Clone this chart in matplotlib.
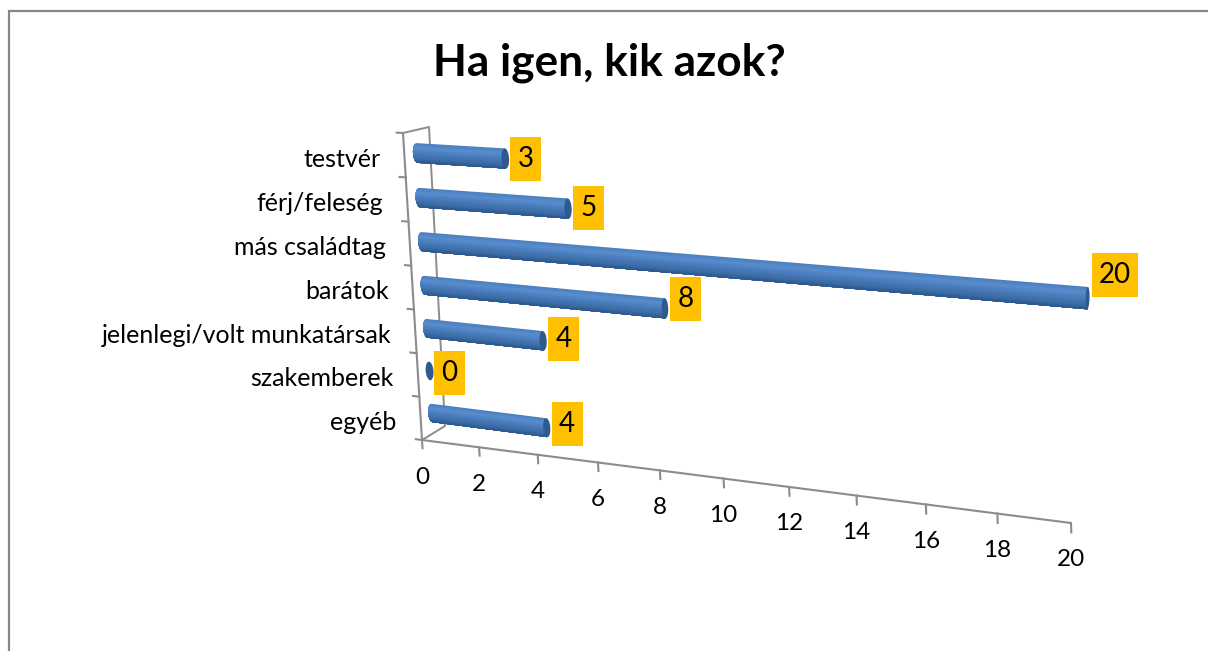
import numpy as np
import matplotlib
matplotlib.use("Agg")
import matplotlib.pyplot as plt
from matplotlib.patches import Rectangle
from matplotlib.transforms import Transform

categories = ["egyéb", "szakemberek", "jelenlegi/volt munkatársak", "barátok",
              "más családtag", "férj/feleség", "testvér"]
values = [4, 0, 4, 8, 20, 5, 3]
value_ticks = [0, 2, 4, 6, 8, 10, 12, 14, 16, 18, 20]
title = "Ha igen, kik azok?"

plt.rcParams["font.family"] = ["Lato", "DejaVu Sans"]


class Perspective(Transform):
    # maps (value, category position) on to picture pixels, like the 3D view of the original
    input_dims = 2
    output_dims = 2
    is_affine = False

    def __init__(self, src, dst):
        super().__init__()
        rows, rhs = [], []
        for (x, y), (u, w) in zip(src, dst):
            rows.append([x, y, 1, 0, 0, 0, -u * x, -u * y])
            rows.append([0, 0, 0, x, y, 1, -w * x, -w * y])
            rhs += [u, w]
        self.m = np.append(np.linalg.solve(np.array(rows, float), np.array(rhs, float)), 1).reshape(3, 3)

    def transform_non_affine(self, xy):
        xy = np.asarray(xy, float)
        p = np.column_stack([xy, np.ones(len(xy))]) @ self.m.T
        return p[:, :2] / p[:, 2:]


fig = plt.figure(figsize=(12.08, 6.51), dpi=100)
ax = fig.add_axes([0, 0, 1, 1])
ax.set_xlim(0, 1208)
ax.set_ylim(651, 0)
ax.axis("off")

n = len(categories)
top = max(value_ticks)

# plane the axis lines sit on, and the plane through the middle of the bars
axis_plane = Perspective([(0, -0.5), (top, -0.5), (0, n - 0.5), (top, n - 0.5)],
                         [(422, 440), (1071, 523), (403, 133), (1060, 170)])
bar_plane = Perspective([(0, 0), (top, 0), (0, n - 1), (top, n - 1)],
                        [(432, 413), (1081, 496), (417, 153), (1091, 195)])
axis_tr = axis_plane + ax.transData
bar_tr = bar_plane + ax.transData

grey = "#8c8c8c"

# outer frame of the chart area
ax.plot([8.5, 8.5, 1208], [651, 11, 11], color="#868686", lw=1.6, solid_joinstyle="miter")

# back wall and floor edge
ax.plot([403, 429, 445, 422], [133, 127, 426, 440], color=grey, lw=1.4)

# value axis
ax.plot([0, top], [-0.5, -0.5], color=grey, lw=1.5, transform=axis_tr)
for t in value_ticks:
    ax.plot([t, t], [-0.5, -0.69], color=grey, lw=1.5, transform=axis_tr)
    px = axis_plane.transform([(t, -0.5)])[0]
    ax.text(px[0], px[1] + 37, str(t), ha="center", va="center", fontsize=17.5, color="black")

# category axis
ax.plot([0, 0], [-0.5, n - 0.5], color=grey, lw=1.5, transform=axis_tr)
for i in range(n + 1):
    ax.plot([0, -0.22], [i - 0.5, i - 0.5], color=grey, lw=1.5, transform=axis_tr)
for i, name in enumerate(categories):
    px = axis_plane.transform([(0, i)])[0]
    ax.text(px[0] - 24, px[1] + 4, name, ha="right", va="center", fontsize=18, color="black")

# bars: strips painted top to bottom, each one running down to the lower edge
half = 0.22
stops = [-1, -0.6, 0, 0.5, 1]
reds = [0x2c, 0x3b, 0x4a, 0x58, 0x4a]
greens = [0x56, 0x6c, 0x7d, 0x8d, 0x7e]
blues = [0x8a, 0xa6, 0xbc, 0xcf, 0xbb]
strips = np.linspace(1, -1, 25)
cap_color = "#2f5a8d"

for i, val in enumerate(values):
    rx = 0.14 - 0.0045 * val
    if val > 0:
        for k, t0 in enumerate(strips[:-1]):
            mid = (t0 + strips[k + 1]) / 2
            col = (np.interp(mid, stops, reds) / 255, np.interp(mid, stops, greens) / 255,
                   np.interp(mid, stops, blues) / 255)
            ts = np.linspace(t0, -1, 30)
            xs = -0.14 * np.sqrt(1 - ts ** 2)
            ax.fill(np.concatenate([[val], xs, [val]]),
                    np.concatenate([[i + half * t0], i + half * ts, [i - half]]),
                    color=col, lw=0, transform=bar_tr, zorder=3)
    ang = np.linspace(0, 2 * np.pi, 60)
    ax.fill(val + rx * np.cos(ang), i + half * np.sin(ang), color=cap_color, lw=0, transform=bar_tr, zorder=4)

# orange value labels: offset from the end of each bar in pixels
label_dx = [5, 4, 5, 5, 4, 5, 5]
label_dy = [-4, 2, -2, -9, -23, -1, 1]
for i, val in enumerate(values):
    px = bar_plane.transform([(val, i)])[0]
    w = 46 if val >= 10 else 31
    left = px[0] + label_dx[i]
    cy = px[1] + label_dy[i]
    ax.add_patch(Rectangle((left, cy - 22), w, 44, facecolor="#ffc000", edgecolor="none", zorder=5))
    ax.text(left + w / 2, cy, str(val), ha="center", va="center", fontsize=20, color="black", zorder=6)

ax.text(609, 63, title, ha="center", va="center", fontsize=31.8, fontweight="bold", color="black")

fig.savefig("out.png", dpi=100)
